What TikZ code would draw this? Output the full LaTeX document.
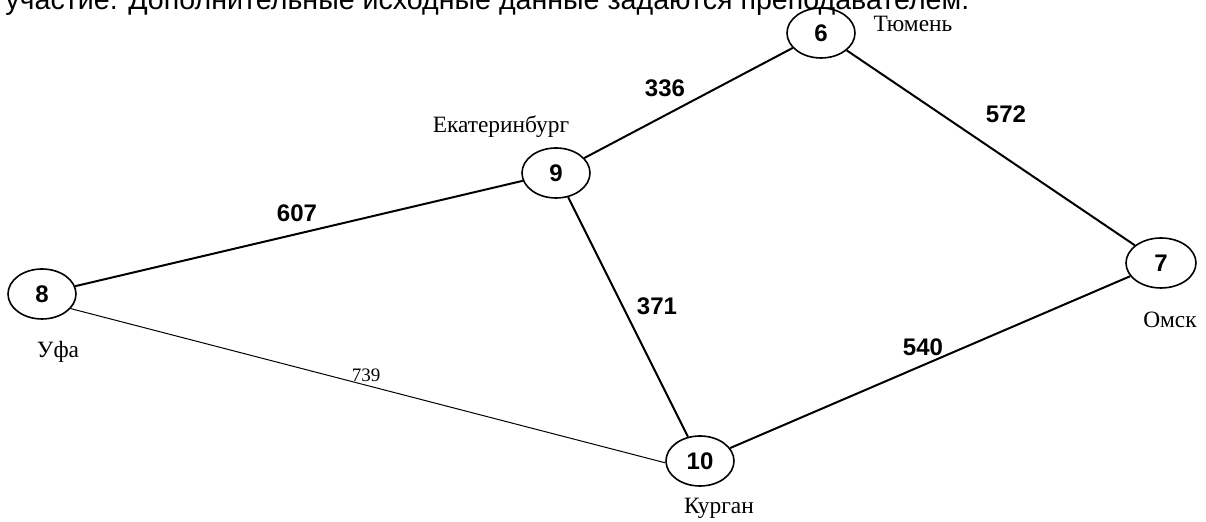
\documentclass[tikz,border=0pt]{standalone}
\usepackage{fontspec}
\setmainfont{Liberation Serif}
\setsansfont{Liberation Sans}
\usetikzlibrary{shapes.geometric}

\tikzset{
	city/.style={draw, ellipse, line width=0.8pt, inner sep=0pt, minimum width=34pt, minimum height=25pt, font=\sffamily\bfseries\fontsize{12}{14}\selectfont},
	cityname/.style={font=\fontsize{11.7}{13}\selectfont},
	road/.style={line width=1pt},
	lane/.style={line width=0.5pt},
	dist/.style={font=\sffamily\bfseries\fontsize{12}{14}\selectfont},
	smalldist/.style={font=\fontsize{9.5}{11}\selectfont}
}

\begin{document}
\begin{tikzpicture}[x=0.5pt, y=-0.5pt]
		\useasboundingbox (0,0) rectangle (1206,522);
		\clip (0,0) rectangle (1206,522);
		
		% Text above (cut off)
		\node[anchor=base west, inner sep=0pt, font=\sffamily\fontsize{14.3}{17}\selectfont] (head) at (5,10) {участие. Дополнительные исходные данные задаются преподавателем.};
		
		% Cities
		\node[city] (v6) at (821,33) {6};
		\node[city] (v9) at (556,173) {9};
		\node[city] (v8) at (42,294) {8};
		\node[city, minimum width=35pt] (v7) at (1161,263) {7};
		\node[city] (v10) at (700,461) {10};
		
		% City names
		\node[cityname] (n6) at (913,24) {Тюмень};
		\node[cityname] (n9) at (501,127) {Екатеринбург};
		\node[cityname] (n8) at (58,352) {Уфа};
		\node[cityname] (n7) at (1170,320) {Омск};
		\node[cityname] (n10) at (719,508) {Курган};
		
		% Roads
		\draw[road] (v9) -- (v6);
		\draw[road] (v6) -- (v7);
		\draw[road] (v8) -- (v9);
		\draw[road] (v9) -- (v10);
		\draw[road] (v10) -- (v7);
		\draw[lane] (v8.-27) -- (v10.183);
		
		% Distances
		\node[dist] (d336) at (665,88) {336};
		\node[dist] (d572) at (1006,114) {572};
		\node[dist] (d607) at (297,213) {607};
		\node[dist] (d371) at (657,306) {371};
		\node[dist] (d540) at (923,347) {540};
		\node[smalldist] (d739) at (366,375) {739};
	\end{tikzpicture}
\end{document}
